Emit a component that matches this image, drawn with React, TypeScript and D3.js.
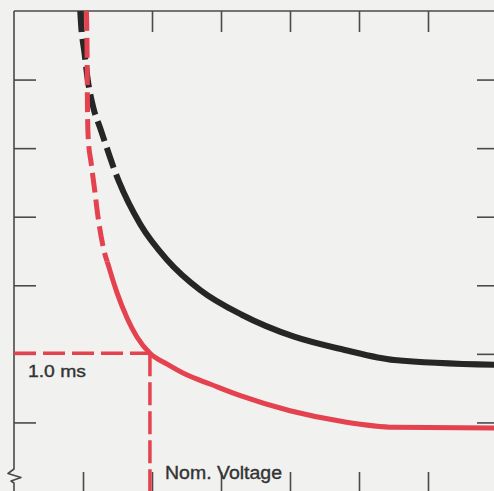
import React, { useEffect, useRef } from "react";
import * as d3 from "d3";

// Voltage (x, in tick units) vs. time (y, in tick units; 2.0 = 1.0 ms)
const blackX = [0.96, 0.97, 1.02, 1.07, 1.15, 1.25, 1.51, 1.83, 2.22, 2.70, 3.30, 4.06, 4.78, 5.51, 6.96];
const blackY = [7.00, 6.83, 6.40, 5.99, 5.59, 5.29, 4.54, 3.89, 3.37, 2.93, 2.57, 2.25, 2.06, 1.91, 1.84];
const BLACK_DASH_TO = 4.52; // dashed above this time value

const redX = [1.05, 1.06, 1.065, 1.075, 1.12, 1.17, 1.22, 1.29, 1.38, 1.49, 1.64, 1.78, 1.97, 2.22, 2.51, 2.84, 3.28, 4.00, 4.78, 5.51, 6.96];
const redY = [7.00, 6.29, 5.56, 5.16, 4.77, 4.38, 3.98, 3.57, 3.25, 2.90, 2.52, 2.25, 2.01, 1.85, 1.69, 1.56, 1.39, 1.17, 1.01, 0.93, 0.92];
const RED_DASH_TO = 3.35;

const xTicks = [1, 2, 3, 4, 5, 6];
const yTicks = [1, 2, 3, 4, 5, 6];

const NOM_VOLTAGE = 1.97;
const REF_TIME = 2.01;
const timeLabel = "1.0 ms";
const voltageLabel = "Nom. Voltage";

const W = 494;
const H = 491;

export default function App() {
  const ref = useRef<SVGSVGElement | null>(null);

  useEffect(() => {
    const svg = d3.select(ref.current);
    svg.selectAll("*").remove();

    const x = d3.scaleLinear().domain([0, 7]).range([14, 497]);
    const y = d3.scaleLinear().domain([0, 7]).range([491, 11]);

    const axisColor = "#4a4a4a";
    const red = "#e4424f";

    svg.append("rect").attr("width", W).attr("height", H).attr("fill", "#f1f1ef");

    const defs = svg.append("defs");

    const gTop = svg.append("g").attr("transform", `translate(0,${y(7)})`)
      .call(d3.axisBottom(x).tickValues(xTicks).tickSize(21).tickFormat(() => ""));
    gTop.select(".domain").remove();
    const gBot = svg.append("g").attr("transform", `translate(0,${H})`)
      .call(d3.axisTop(x).tickValues(xTicks).tickSize(19).tickFormat(() => ""));
    gBot.select(".domain").remove();
    const gLeft = svg.append("g").attr("transform", `translate(${x(0)},0)`)
      .call(d3.axisRight(y).tickValues(yTicks).tickSize(22).tickFormat(() => ""));
    gLeft.select(".domain").remove();
    const gRight = svg.append("g").attr("transform", `translate(${W},0)`)
      .call(d3.axisLeft(y).tickValues(yTicks).tickSize(17).tickFormat(() => ""));
    gRight.select(".domain").remove();

    svg.selectAll(".tick line").attr("stroke", axisColor).attr("stroke-width", 1.6);

    svg.append("line")
      .attr("x1", x(0)).attr("x2", W).attr("y1", y(7)).attr("y2", y(7))
      .attr("stroke", axisColor).attr("stroke-width", 1.6);

    const x0 = x(0);
    svg.append("path")
      .attr("d", `M${x0},${y(7)} L${x0},469 L8,473.5 L21,477.5 L11,481 L${x0},483 L${x0},${H}`)
      .attr("fill", "none").attr("stroke", axisColor).attr("stroke-width", 1.6)
      .attr("stroke-linejoin", "round");

    svg.append("line")
      .attr("x1", x(0)).attr("x2", x(NOM_VOLTAGE)).attr("y1", y(REF_TIME)).attr("y2", y(REF_TIME))
      .attr("stroke", red).attr("stroke-width", 3.5).attr("stroke-dasharray", "22 7");
    svg.append("line")
      .attr("x1", x(NOM_VOLTAGE)).attr("x2", x(NOM_VOLTAGE)).attr("y1", y(REF_TIME)).attr("y2", H)
      .attr("stroke", red).attr("stroke-width", 3.5).attr("stroke-dasharray", "23 6");

    const gen = d3.line<[number, number]>()
      .x((p) => x(p[0]))
      .y((p) => y(p[1]))
      .curve(d3.curveMonotoneX);

    const drawCurve = (name: string, xs: number[], ys: number[], dashTo: number, color: string, width: number, dash: string) => {
      const splitY = y(dashTo);
      defs.append("clipPath").attr("id", `${name}-dash`)
        .append("rect").attr("x", x(0)).attr("y", y(7)).attr("width", W).attr("height", splitY - y(7));
      defs.append("clipPath").attr("id", `${name}-solid`)
        .append("rect").attr("x", x(0)).attr("y", splitY).attr("width", W).attr("height", H - splitY);
      const pts = xs.map((v, i) => [v, ys[i]] as [number, number]);
      const d = gen(pts) || "";
      svg.append("path").attr("d", d).attr("clip-path", `url(#${name}-dash)`)
        .attr("fill", "none").attr("stroke", color).attr("stroke-width", width)
        .attr("stroke-dasharray", dash);
      svg.append("path").attr("d", d).attr("clip-path", `url(#${name}-solid)`)
        .attr("fill", "none").attr("stroke", color).attr("stroke-width", width);
    };

    drawCurve("black", blackX, blackY, BLACK_DASH_TO, "#262626", 6, "21 7");
    drawCurve("red", redX, redY, RED_DASH_TO, red, 5, "20 7");

    svg.append("text")
      .attr("x", 28).attr("y", 377)
      .attr("font-family", "Liberation Sans, Arial, sans-serif")
      .attr("font-size", 16).attr("fill", "#333")
      .attr("stroke", "#333").attr("stroke-width", 0.35)
      .attr("textLength", 58).attr("lengthAdjust", "spacingAndGlyphs")
      .text(timeLabel);

    svg.append("text")
      .attr("x", 165).attr("y", 479)
      .attr("font-family", "Liberation Sans, Arial, sans-serif")
      .attr("font-size", 17.5).attr("fill", "#333")
      .attr("stroke", "#333").attr("stroke-width", 0.35)
      .attr("textLength", 117).attr("lengthAdjust", "spacingAndGlyphs")
      .text(voltageLabel);
  }, []);

  return (
    <svg
      ref={ref}
      width={W}
      height={H}
      style={{ position: "absolute", left: 0, top: 0, display: "block" }}
    />
  );
}
